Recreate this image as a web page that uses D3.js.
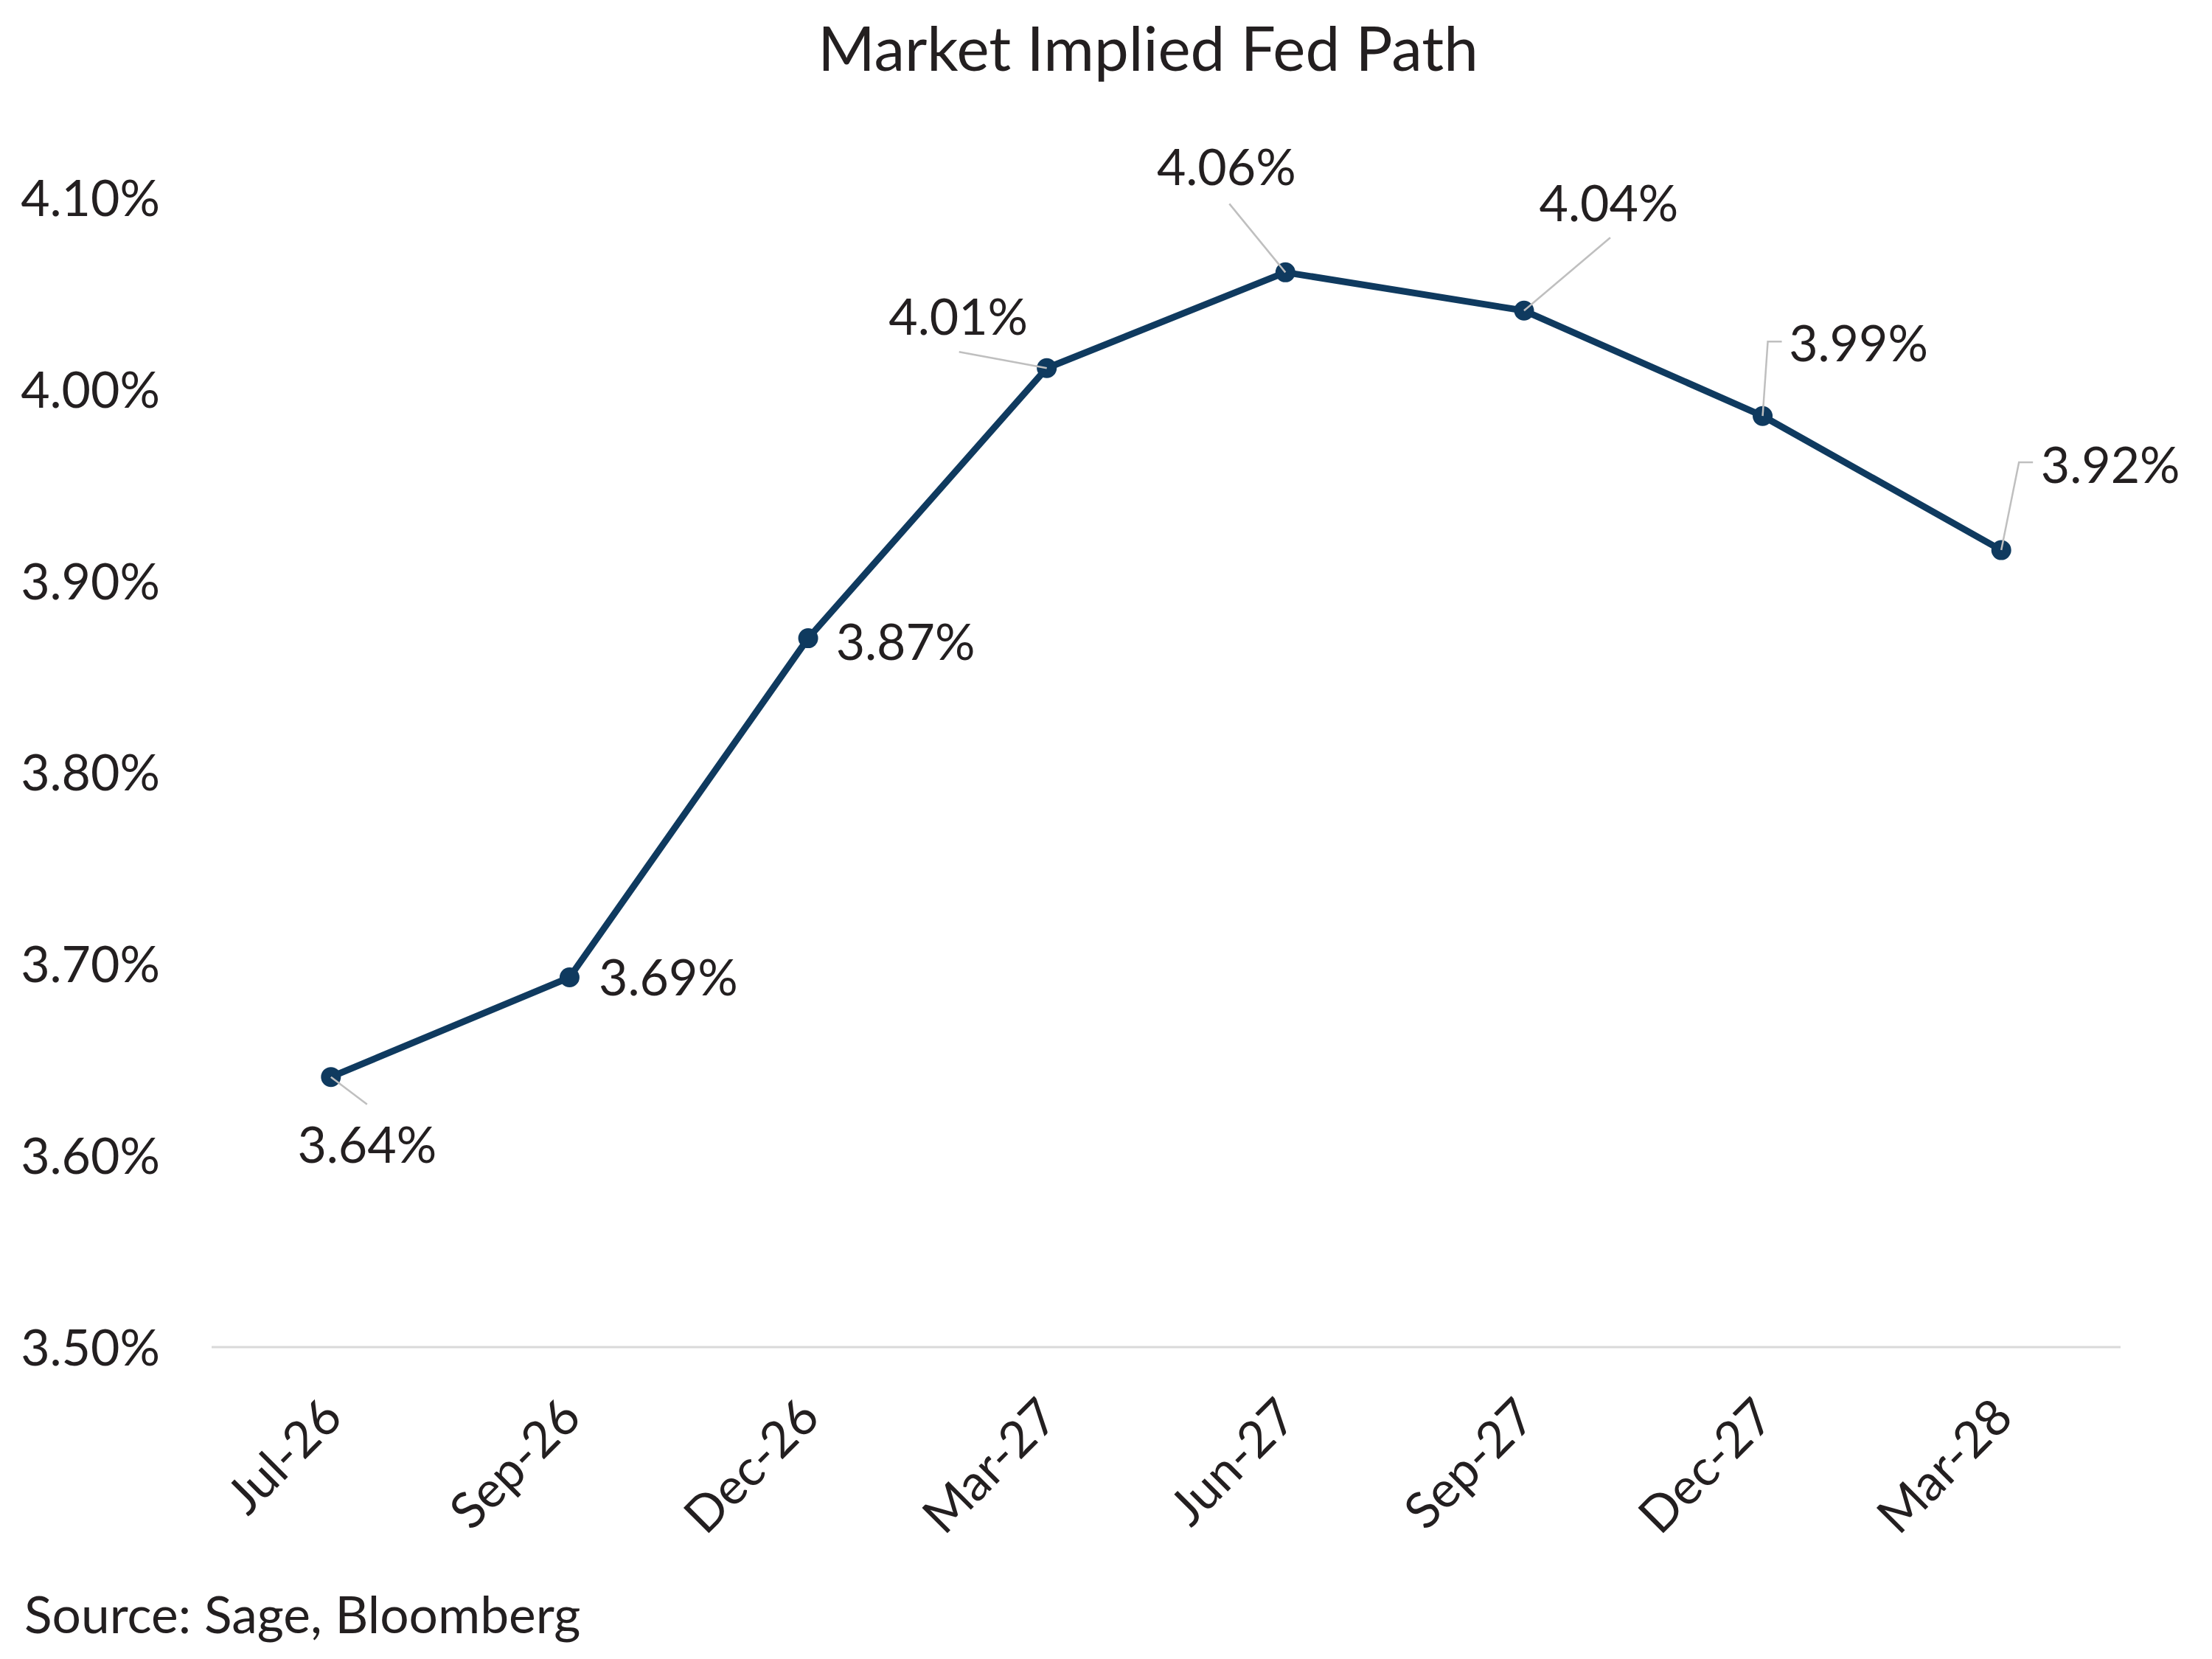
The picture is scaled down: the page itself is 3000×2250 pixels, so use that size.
<!DOCTYPE html>
<html>
<head>
<meta charset="utf-8">
<script src="https://cdn.jsdelivr.net/npm/d3@7"></script>
<style>
  html, body { margin: 0; padding: 0; background: #fff; }
  svg { display: block; }
  text { font-family: Lato, "Open Sans", sans-serif; fill: #231f20; }
</style>
</head>
<body>
<script>
// ---- Data ----
const categories = ["Jul-26", "Sep-26", "Dec-26", "Mar-27", "Jun-27", "Sep-27", "Dec-27", "Mar-28"];
const rates = [3.641, 3.693, 3.870, 4.011, 4.061, 4.041, 3.986, 3.916];
const rateLabels = ["3.64%", "3.69%", "3.87%", "4.01%", "4.06%", "4.04%", "3.99%", "3.92%"];
const yTicks = [3.5, 3.6, 3.7, 3.8, 3.9, 4.0, 4.1];
const title = "Market Implied Fed Path";
const source = "Source: Sage, Bloomberg";

// ---- Layout (label placement relative to each point, px) ----
// dx, dy: label centre offset; leader: "none" | "straight" | "elbow"
const labelLayout = [
  { dx: 49,  dy: 92,   leader: "straight", lx: 49,  ly: 37 },
  { dx: 134, dy: 0,    leader: "none" },
  { dx: 132, dy: 5,    leader: "none" },
  { dx: -120, dy: -70, leader: "straight", lx: -119, ly: -22 },
  { dx: -80, dy: -143, leader: "straight", lx: -76,  ly: -93 },
  { dx: 115, dy: -146, leader: "straight", lx: 117,  ly: -99 },
  { dx: 130, dy: -99,  leader: "elbow",    lx: 7,    ly: -101, ex: 26 },
  { dx: 148, dy: -116, leader: "elbow",    lx: 24,   ly: -119, ex: 43 }
];

const W = 3000, H = 2250;
const margin = { left: 287, right: 124, top: 268, bottom: 423 };

const svg = d3.select("body").append("svg").attr("width", W).attr("height", H);

const x = d3.scaleBand().domain(categories).range([margin.left, W - margin.right]).paddingInner(0).paddingOuter(0);
const y = d3.scaleLinear().domain([3.5, 4.1]).range([H - margin.bottom, margin.top]);

// Title
svg.append("text")
  .attr("x", 1557).attr("y", 96)
  .attr("text-anchor", "middle")
  .style("font-size", "83.5px")
  .text(title);

// Y axis labels
const yAxis = d3.axisLeft(y).tickValues(yTicks).tickFormat(d => d3.format(".2f")(d) + "%").tickSize(0).tickPadding(0);
const yg = svg.append("g").attr("transform", `translate(${217},0)`).call(yAxis);
yg.select(".domain").remove();
yg.selectAll("text").style("font-size", "68px").attr("fill", "#231f20").attr("dy", "0.36em");

// Baseline
svg.append("line")
  .attr("x1", margin.left).attr("x2", W - margin.right)
  .attr("y1", y(3.5)).attr("y2", y(3.5))
  .attr("stroke", "#d9d9d9").attr("stroke-width", 3);

// X axis labels (rotated)
const xAxis = d3.axisBottom(x).tickSize(0).tickPadding(0);
const xg = svg.append("g").attr("transform", `translate(0,${y(3.5)})`).call(xAxis);
xg.select(".domain").remove();
xg.selectAll("text")
  .style("font-size", "68px")
  .attr("fill", "#231f20")
  .attr("text-anchor", "end")
  .attr("transform", "translate(2,82) rotate(-45)")
  .attr("dy", "0.35em")
  .attr("y", 0);

const pts = categories.map((c, i) => ({ c, v: rates[i], label: rateLabels[i], L: labelLayout[i] }));
const cx = d => x(d.c) + x.bandwidth() / 2;

// Leader lines
const leaderG = svg.append("g");
pts.forEach(d => {
  const px = cx(d), py = y(d.v), L = d.L;
  if (L.leader === "straight") {
    leaderG.append("line")
      .attr("x1", px + L.lx).attr("y1", py + L.ly).attr("x2", px).attr("y2", py)
      .attr("stroke", "#bfbfbf").attr("stroke-width", 2.5);
  } else if (L.leader === "elbow") {
    leaderG.append("polyline")
      .attr("points", `${px + L.ex},${py + L.ly} ${px + L.lx},${py + L.ly} ${px},${py}`)
      .attr("fill", "none").attr("stroke", "#bfbfbf").attr("stroke-width", 2.5);
  }
});

// Line
const line = d3.line().x(cx).y(d => y(d.v));
svg.append("path").datum(pts)
  .attr("d", line)
  .attr("fill", "none").attr("stroke", "#0f3a5f").attr("stroke-width", 9)
  .attr("stroke-linejoin", "round");

// Markers
svg.append("g").selectAll("circle").data(pts).join("circle")
  .attr("cx", cx).attr("cy", d => y(d.v)).attr("r", 13.5)
  .attr("fill", "#0f3a5f");

// Leader tips drawn above markers (small grey tick into marker, as in reference)
pts.forEach(d => {
  const px = cx(d), py = y(d.v), L = d.L;
  if (L.leader !== "none") {
    const ax = L.lx, ay = L.ly;
    const len = Math.hypot(ax, ay);
    svg.append("line")
      .attr("x1", px).attr("y1", py)
      .attr("x2", px + ax / len * 15).attr("y2", py + ay / len * 15)
      .attr("stroke", "#bfbfbf").attr("stroke-width", 2.5);
  }
});

// Data labels
svg.append("g").selectAll("text").data(pts).join("text")
  .attr("x", d => cx(d) + d.L.dx)
  .attr("y", d => y(d.v) + d.L.dy)
  .attr("text-anchor", "middle")
  .attr("dy", "0.36em")
  .style("font-size", "68px")
  .text(d => d.label);

// Source
svg.append("text")
  .attr("x", 33).attr("y", 2215)
  .style("font-size", "69.5px")
  .text(source);
</script>
</body>
</html>
